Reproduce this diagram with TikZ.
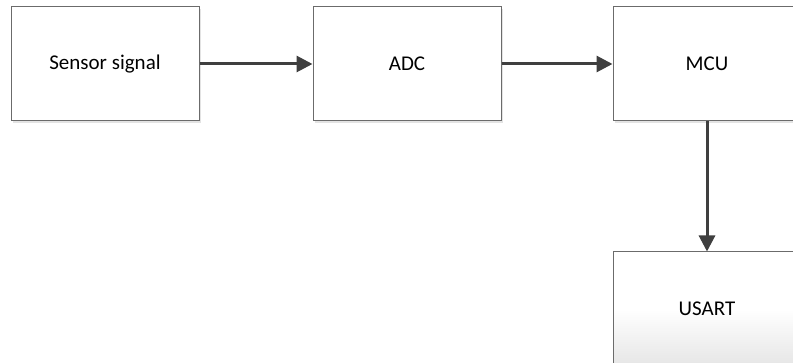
\documentclass[tikz,border=0pt]{standalone}
\usepackage{fontspec}
\setmainfont{Carlito}
\usetikzlibrary{arrows.meta,shadows}
\definecolor{edgegray}{HTML}{6B6B6B}
\definecolor{linegray}{HTML}{3F3F3F}
\tikzset{
  block/.style={draw=edgegray, line width=1pt, fill=white, minimum width=188pt,
    minimum height=114pt, inner sep=0pt, font=\fontsize{21}{24}\selectfont,
    drop shadow={shadow xshift=2pt, shadow yshift=-2pt, fill=black!18, opacity=0.6}},
  flow/.style={draw=linegray, line width=3pt,
    -{Triangle[length=16pt,width=16pt]}}
}
\begin{document}
\begin{tikzpicture}[x=1pt,y=-1pt]
  \useasboundingbox (0,0) rectangle (793,363);
  \clip (0,0) rectangle (793,363);
  \node[block] (sensor) at (105,64) {Sensor signal};
  \node[block] (adc) at (407,64) {ADC};
  \node[block] (mcu) at (707,64) {MCU};
  \node[block, top color=white, bottom color=black!10, middle color=white] (usart) at (707,309) {USART};
  \draw[flow] (sensor) -- (adc);
  \draw[flow] (adc) -- (mcu);
  \draw[flow] (mcu) -- (usart);
\end{tikzpicture}
\end{document}
